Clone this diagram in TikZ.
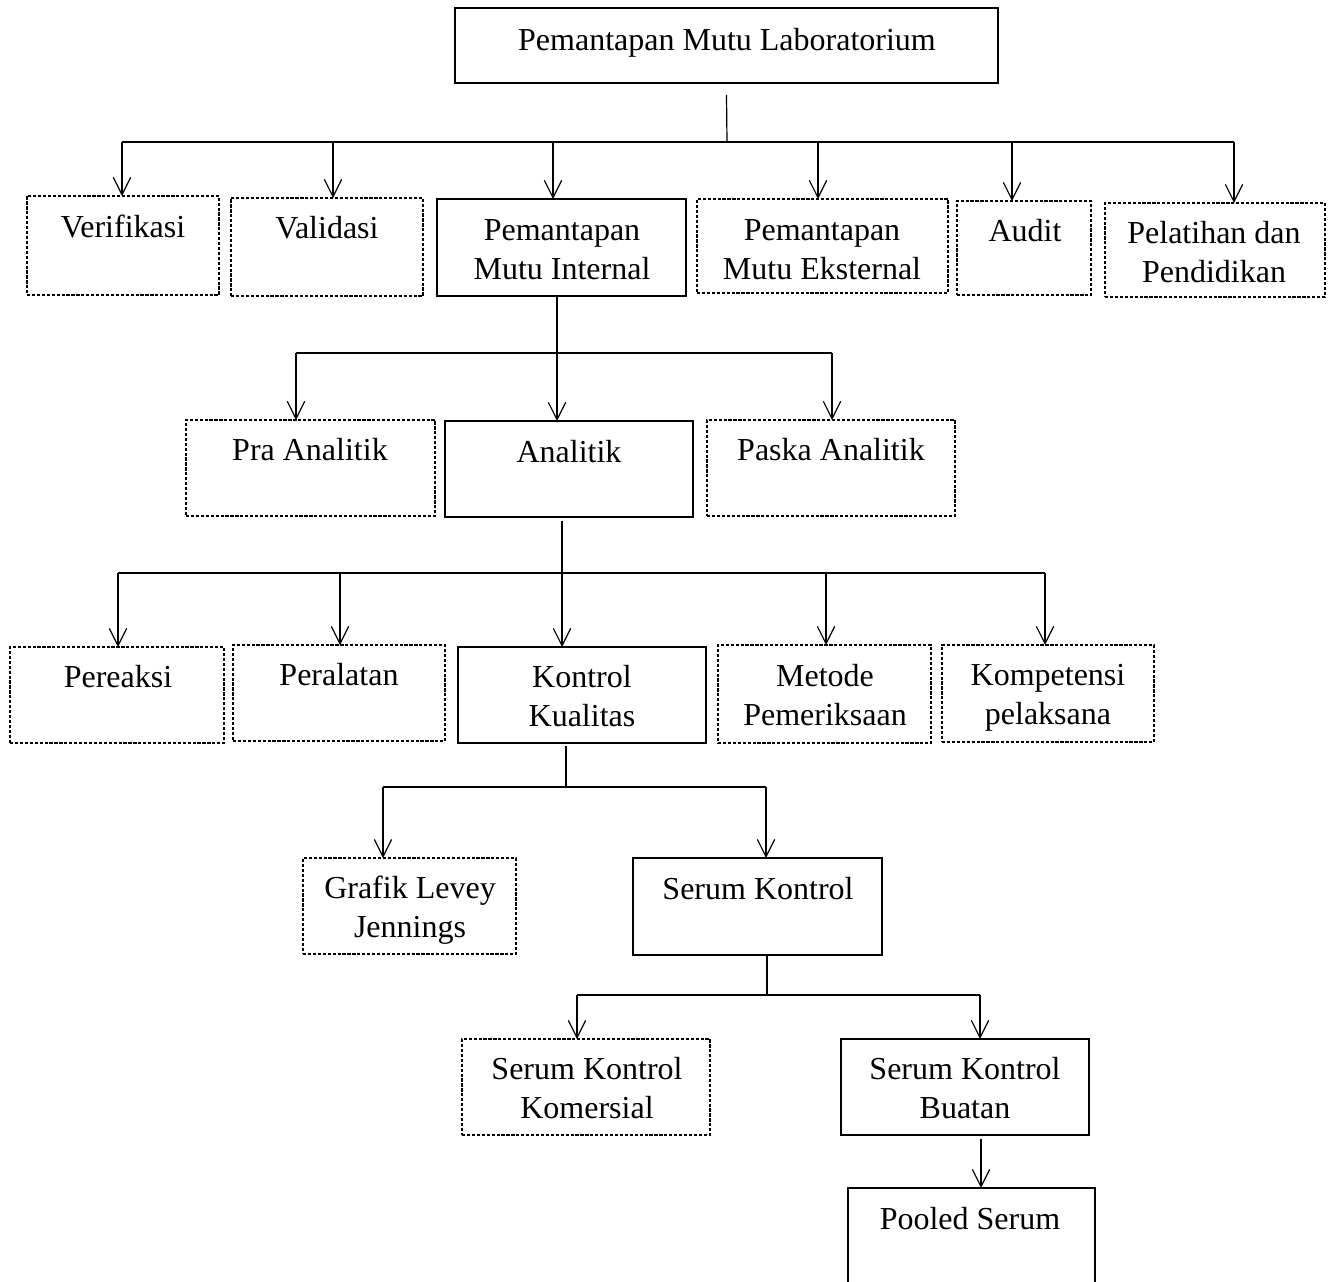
\documentclass[tikz,border=0pt]{standalone}
\usepackage{fontspec}
\setmainfont{Liberation Serif}
\usetikzlibrary{arrows.meta}
\newcommand\mybox[6]{\node[#1, minimum width={(#5-#3)*0.75pt}, minimum height={(#6-#4)*0.75pt}] (#2) at ({(#3+#5)/2},{(#4+#6)/2}) {};}
\begin{document}
\begin{tikzpicture}[x=0.75pt,y=-0.75pt,
  sbox/.style={draw, line width=1.2pt, inner sep=0, outer sep=0},
  dbox/.style={draw, line width=0.9pt, dash pattern=on 2.4pt off 1.3pt, inner sep=0, outer sep=0},
  lbl/.style={font=\fontsize{24}{29}\selectfont, align=center, inner sep=0, text height=18pt, anchor=north},
  bus/.style={line width=2.2pt},
  stem/.style={line width=0.9pt},
  arr/.style={line width=0.9pt, -{Straight Barb[length=13pt,width=13pt,line width=0.9pt]}}]
\useasboundingbox (0,0) rectangle (1329,1282);
\clip (0,0) rectangle (1329,1282);
\fill[white] (0,0) rectangle (1329,1282);

% boxes
\mybox{sbox}{top}{455}{8}{998}{83}
\mybox{dbox}{ver}{27}{196}{219}{295}
\mybox{dbox}{val}{231}{198}{423}{296}
\mybox{sbox}{pmi}{437}{199}{686}{296}
\mybox{dbox}{pme}{697}{199}{948}{293}
\mybox{dbox}{aud}{957}{201}{1091}{295}
\mybox{dbox}{pel}{1105}{203}{1325}{297}
\mybox{dbox}{pra}{186}{420}{435}{516}
\mybox{sbox}{ana}{445}{421}{693}{517}
\mybox{dbox}{pas}{707}{420}{955}{516}
\mybox{dbox}{prk}{10}{647}{224}{743}
\mybox{dbox}{prl}{233}{645}{445}{741}
\mybox{sbox}{kk}{458}{647}{706}{743}
\mybox{dbox}{met}{718}{645}{931}{743}
\mybox{dbox}{kom}{942}{645}{1154}{742}
\mybox{dbox}{gra}{303}{858}{516}{954}
\mybox{sbox}{sk}{633}{858}{882}{955}
\mybox{dbox}{skk}{462}{1039}{710}{1135}
\mybox{sbox}{skb}{841}{1039}{1089}{1135}
\mybox{sbox}{pool}{848}{1188}{1095}{1300}

% labels (single line: y = baseline - 24; two lines: y = second baseline - 24)
\node[lbl] (top-t) at (727,26) {Pemantapan Mutu Laboratorium};
\node[lbl] (ver-t) at (123,213) {Verifikasi};
\node[lbl] (val-t) at (327,214) {Validasi};
\node[lbl] (pmi-t) at (562,255) {Pemantapan\\Mutu Internal};
\node[lbl] (pme-t) at (822,255) {Pemantapan\\Mutu Eksternal};
\node[lbl] (aud-t) at (1025,217) {Audit};
\node[lbl] (pel-t) at (1214,258) {Pelatihan dan\\Pendidikan};
\node[lbl] (pra-t) at (310,436) {Pra Analitik};
\node[lbl] (ana-t) at (569,438) {Analitik};
\node[lbl] (pas-t) at (831,436) {Paska Analitik};
\node[lbl] (prk-t) at (118,663) {Pereaksi};
\node[lbl] (prl-t) at (339,661) {Peralatan};
\node[lbl] (kk-t) at (582,702) {Kontrol\\Kualitas};
\node[lbl] (met-t) at (825,701) {Metode\\Pemeriksaan};
\node[lbl] (kom-t) at (1048,700) {Kompetensi\\pelaksana};
\node[lbl] (gra-t) at (410,913) {Grafik Levey\\Jennings};
\node[lbl] (sk-t) at (758,875) {Serum Kontrol};
\node[lbl] (skk-t) at (587,1094) {Serum Kontrol\\Komersial};
\node[lbl] (skb-t) at (965,1094) {Serum Kontrol\\Buatan};
\node[lbl] (pool-t) at (970,1205) {Pooled Serum};

% level 1
\coordinate (j1) at (727,142);
\coordinate (j1a) at (122,142);
\coordinate (j1b) at (333,142);
\coordinate (j1c) at (553,142);
\coordinate (j1d) at (818,142);
\coordinate (j1e) at (1012,142);
\coordinate (j1f) at (1234,142);
\draw[stem] (top.south) ++(0,12) -- (j1);
\draw[arr] (j1a) -- (j1a |- ver.north);
\draw[arr] (j1b) -- (j1b |- val.north);
\draw[arr] (j1c) -- (j1c |- pmi.north);
\draw[arr] (j1d) -- (j1d |- pme.north);
\draw[arr] (j1e) -- (j1e |- aud.north);
\draw[arr] (j1f) -- (j1f |- pel.north);
\draw[bus] (j1a) -- (j1f);

% level 2
\coordinate (j2a) at (296,353);
\coordinate (j2b) at (557,353);
\coordinate (j2c) at (832,353);
\draw[stem] (pmi.south -| j2b) -- (j2b);
\draw[arr] (j2a) -- (j2a |- pra.north);
\draw[arr] (j2b) -- (j2b |- ana.north);
\draw[arr] (j2c) -- (j2c |- pas.north);
\draw[bus] (j2a) -- (j2c);

% level 3
\coordinate (j3a) at (118,573);
\coordinate (j3b) at (340,573);
\coordinate (j3c) at (562,573);
\coordinate (j3d) at (826,573);
\coordinate (j3e) at (1045,573);
\draw[stem] (ana.south -| j3c) ++(0,4) -- (j3c);
\draw[arr] (j3a) -- (j3a |- prk.north);
\draw[arr] (j3b) -- (j3b |- prl.north);
\draw[arr] (j3c) -- (j3c |- kk.north);
\draw[arr] (j3d) -- (j3d |- met.north);
\draw[arr] (j3e) -- (j3e |- kom.north);
\draw[bus] (j3a) -- (j3e);

% level 4
\coordinate (j4) at (566,787);
\coordinate (j4a) at (383,787);
\coordinate (j4b) at (766,787);
\draw[stem] (kk.south -| j4) ++(0,3) -- (j4);
\draw[arr] (j4a) -- (j4a |- gra.north);
\draw[arr] (j4b) -- (j4b |- sk.north);
\draw[bus] (j4a) -- (j4b);

% level 5
\coordinate (j5) at (767,995);
\coordinate (j5a) at (577,995);
\coordinate (j5b) at (980,995);
\draw[stem] (sk.south -| j5) -- (j5);
\draw[arr] (j5a) -- (j5a |- skk.north);
\draw[arr] (j5b) -- (j5b |- skb.north);
\draw[bus] (j5a) -- (j5b);

% level 6
\coordinate (j6) at (981,1139);
\draw[arr] (j6) -- (j6 |- pool.north);
\end{tikzpicture}
\end{document}
